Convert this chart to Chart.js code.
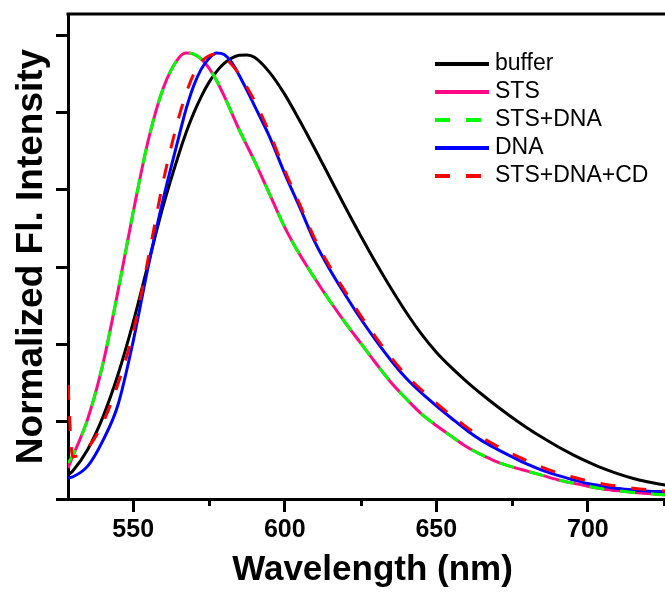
<!DOCTYPE html>
<html>
<head>
<meta charset="utf-8">
<script src="https://cdn.jsdelivr.net/npm/chart.js@4.4.1/dist/chart.umd.min.js"></script>
<style>
  html, body { margin: 0; padding: 0; background: #fff; overflow: hidden; }
  #wrap { width: 665px; height: 594px; overflow: hidden; }
</style>
</head>
<body>
<div id="wrap"><canvas id="spectra" width="680" height="594"></canvas></div>
<script>
// wavelength grid (nm), finer around the maxima
const wavelength = [528.5, 530, 535, 540, 545, 550, 555, 560, 565, 567.5, 570, 572.5, 575, 577.5, 580, 582.5, 585, 587.5, 590,
    595, 600, 605, 610, 615, 620, 625, 630, 635, 640, 645, 650, 655, 660, 665, 670, 675, 680, 685, 690, 695, 700,
    705, 710, 715, 720, 725, 730];

const buffer = [0.062, 0.072, 0.128, 0.212, 0.322, 0.457, 0.610, 0.761, 0.891, 0.949, 0.999, 1.042, 1.078, 1.106, 1.127, 1.141, 1.148, 1.149, 1.143,
    1.104, 1.047, 0.978, 0.905, 0.830, 0.755, 0.682, 0.612, 0.546, 0.484, 0.428, 0.380, 0.340, 0.304, 0.271, 0.240, 0.211, 0.184, 0.159, 0.136, 0.115, 0.096,
    0.079, 0.065, 0.053, 0.044, 0.037, 0.031];

const sts = [0.080, 0.109, 0.207, 0.349, 0.538, 0.742, 0.929, 1.065, 1.141, 1.154, 1.151, 1.138, 1.115, 1.083, 1.043, 0.999, 0.955, 0.915, 0.875,
    0.789, 0.703, 0.632, 0.570, 0.511, 0.456, 0.404, 0.352, 0.302, 0.260, 0.221, 0.190, 0.162, 0.135, 0.114, 0.096, 0.083, 0.072, 0.061, 0.050, 0.041, 0.033,
    0.026, 0.021, 0.017, 0.014, 0.011, 0.009];

const stsDna = [0.093, 0.112, 0.207, 0.349, 0.538, 0.742, 0.929, 1.065, 1.141, 1.154, 1.151, 1.138, 1.115, 1.083, 1.043, 0.999, 0.955, 0.915, 0.875,
    0.789, 0.703, 0.632, 0.570, 0.511, 0.456, 0.404, 0.352, 0.302, 0.260, 0.221, 0.190, 0.162, 0.135, 0.114, 0.096, 0.083, 0.072, 0.061, 0.050, 0.041, 0.033,
    0.026, 0.021, 0.017, 0.014, 0.011, 0.009];

const dna = [0.054, 0.057, 0.085, 0.151, 0.244, 0.408, 0.603, 0.779, 0.935, 1.010, 1.070, 1.113, 1.140, 1.154, 1.150, 1.130, 1.096, 1.058, 1.018,
    0.937, 0.842, 0.754, 0.664, 0.592, 0.528, 0.467, 0.411, 0.359, 0.313, 0.275, 0.241, 0.209, 0.178, 0.151, 0.129, 0.109, 0.090, 0.074, 0.061, 0.050, 0.040,
    0.033, 0.027, 0.023, 0.020, 0.019, 0.018];

const stsDnaCd = [0.295, 0.109, 0.132, 0.197, 0.298, 0.432, 0.624, 0.825, 0.986, 1.050, 1.100, 1.132, 1.147, 1.151, 1.143, 1.124, 1.099, 1.066, 1.031,
    0.947, 0.850, 0.762, 0.672, 0.600, 0.536, 0.475, 0.419, 0.367, 0.321, 0.283, 0.248, 0.216, 0.186, 0.159, 0.137, 0.117, 0.099, 0.082, 0.068, 0.057, 0.047,
    0.039, 0.033, 0.028, 0.024, 0.021, 0.020];

const seriesNames = ["buffer", "STS", "STS+DNA", "DNA", "STS+DNA+CD"];
const xTicks = [550, 600, 650, 700];
const xMinorTicks = [575, 625, 675, 725];
const yTicks = [0, 0.2, 0.4, 0.6, 0.8, 1.0, 1.2];

const fontFamily = "'Liberation Sans', Arial, Helvetica, sans-serif";

function toPoints(values) {
    return wavelength.map((w, i) => ({ x: w, y: values[i] }));
}

// order: lower number is drawn on top
const datasets = [
    { label: seriesNames[0], data: toPoints(buffer), borderColor: "#000000", order: 4 },
    { label: seriesNames[1], data: toPoints(sts), borderColor: "#ff0a84", order: 3 },
    { label: seriesNames[2], data: toPoints(stsDna), borderColor: "#00ff00", borderDash: [15, 16], order: 1 },
    { label: seriesNames[3], data: toPoints(dna), borderColor: "#0000ff", order: 2 },
    { label: seriesNames[4], data: toPoints(stsDnaCd), borderColor: "#ff0000", borderDash: [15, 16], order: 0 }
];

// top frame line + short minor ticks on the wavelength axis
const framePlugin = {
    id: "frame",
    afterDraw(chart) {
        const { ctx, chartArea } = chart;
        const x = chart.scales.x;
        ctx.save();
        ctx.strokeStyle = "#000";
        ctx.lineWidth = 3;
        ctx.beginPath();
        ctx.moveTo(chartArea.left - 1.5, chartArea.top);
        ctx.lineTo(chartArea.right, chartArea.top);
        xMinorTicks.forEach(v => {
            const px = Math.round(x.getPixelForValue(v)) + 0.5;
            ctx.moveTo(px, chartArea.bottom);
            ctx.lineTo(px, chartArea.bottom + 7);
        });
        ctx.stroke();
        ctx.restore();
    }
};

// legend inside the plot, lines drawn with each dataset's own style
const insideLegend = {
    id: "insideLegend",
    afterDraw(chart) {
        const ctx = chart.ctx;
        ctx.save();
        ctx.font = "23px " + fontFamily;
        ctx.textBaseline = "middle";
        ctx.textAlign = "left";
        chart.data.datasets.forEach((ds, i) => {
            const y = 64 + i * 28;
            ctx.beginPath();
            ctx.setLineDash(ds.borderDash || []);
            ctx.lineWidth = 4;
            ctx.strokeStyle = ds.borderColor;
            ctx.moveTo(435, y);
            ctx.lineTo(489, y);
            ctx.stroke();
            ctx.setLineDash([]);
            ctx.fillStyle = "#000";
            ctx.fillText(ds.label, 495, y);
        });
        ctx.restore();
    }
};

const ctx = document.getElementById("spectra").getContext("2d");

new Chart(ctx, {
    type: "line",
    data: { datasets: datasets },
    options: {
        responsive: false,
        animation: false,
        layout: { padding: { left: 0, top: 14, right: 3, bottom: 0 } },
        plugins: {
            legend: { display: false },
            tooltip: { enabled: false }
        },
        elements: {
            point: { radius: 0 },
            line: { borderWidth: 3, cubicInterpolationMode: "monotone", fill: false }
        },
        scales: {
            x: {
                type: "linear",
                min: 528.5,
                max: 729.4,
                afterBuildTicks: s => { s.ticks = xTicks.map(v => ({ value: v })); },
                afterFit: s => { s.height = 95; },
                grid: { display: true, drawOnChartArea: false, drawTicks: true, tickLength: 13, tickWidth: 3, tickColor: "#000" },
                border: { display: true, width: 3, color: "#000" },
                ticks: {
                    color: "#000",
                    padding: 3,
                    maxRotation: 0,
                    font: { family: fontFamily, size: 25, weight: "bold" }
                },
                title: {
                    display: true,
                    text: "Wavelength (nm)",
                    color: "#000",
                    font: { family: fontFamily, size: 35, weight: "bold" },
                    padding: { top: 0, bottom: 3 }
                }
            },
            y: {
                min: 0,
                max: 1.255,
                afterBuildTicks: s => { s.ticks = yTicks.map(v => ({ value: v })); },
                afterFit: s => { s.width = 68; },
                grid: { display: true, drawOnChartArea: false, drawTicks: true, tickLength: 12, tickWidth: 3, tickColor: "#000" },
                border: { display: true, width: 3, color: "#000" },
                ticks: { display: false },
                title: {
                    display: true,
                    text: "Normalized Fl. Intensity",
                    color: "#000",
                    font: { family: fontFamily, size: 37, weight: "bold" },
                    padding: { top: 10, bottom: 0 }
                }
            }
        }
    },
    plugins: [framePlugin, insideLegend]
});
</script>
</body>
</html>
